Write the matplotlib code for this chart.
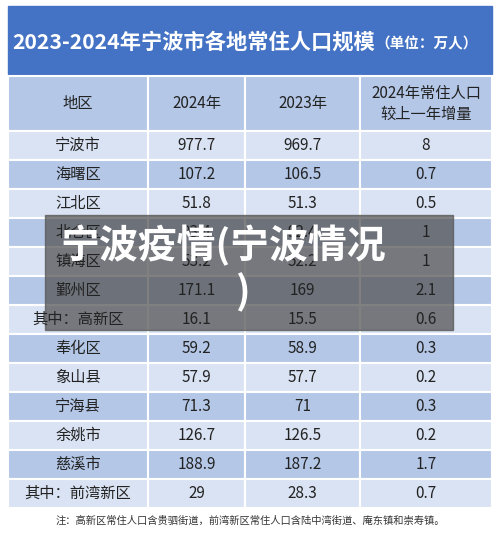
import matplotlib.pyplot as plt
from matplotlib.patches import Rectangle

plt.rcParams['font.family'] = ['Noto Sans CJK SC', 'DejaVu Sans']

title = '2023-2024年宁波市各地常住人口规模'
unit = '（单位：万人）'
headers = ['地区', '2024年', '2023年', '2024年常住人口\n较上一年增量']
regions = ['宁波市', '海曙区', '江北区', '北仑区', '镇海区', '鄞州区', '其中：高新区',
           '奉化区', '象山县', '宁海县', '余姚市', '慈溪市', '其中：前湾新区']
pop_2024 = ['977.7', '107.2', '51.8', '93.4', '53.2', '171.1', '16.1',
            '59.2', '57.9', '71.3', '126.7', '188.9', '29']
pop_2023 = ['969.7', '106.5', '51.3', '92.4', '52.2', '169', '15.5',
            '58.9', '57.7', '71', '126.5', '187.2', '28.3']
increase = ['8', '0.7', '0.5', '1', '1', '2.1', '0.6',
            '0.3', '0.2', '0.3', '0.2', '1.7', '0.7']
note = '注：高新区常住人口含贵驷街道，前湾新区常住人口含陆中湾街道、庵东镇和崇寿镇。'
overlay_1 = '宁波疫情(宁波情况'
overlay_2 = ')'

fig = plt.figure(figsize=(5, 5.45), dpi=100)
ax = fig.add_axes([0, 0, 1, 1])
ax.set_xlim(0, 500)
ax.set_ylim(545, 0)
ax.axis('off')

cols = [8, 148, 245, 360, 492]
border = '#ffffff'

# title band
ax.add_patch(Rectangle((8, 6), 484, 68, color='#4472c4'))
ax.text(12, 42, title, color='white', fontsize=15.3, fontweight='bold', va='center')
ax.text(375, 43, unit, color='white', fontsize=10.5, fontweight='bold', va='center')

# header
hy0, hy1 = 76, 131
for i in range(4):
    ax.add_patch(Rectangle((cols[i], hy0), cols[i+1] - cols[i], hy1 - hy0,
                           facecolor='#b4c7e7', edgecolor=border, lw=1.5))
    ax.text((cols[i] + cols[i+1]) / 2, (hy0 + hy1) / 2, headers[i], ha='center',
            va='center', fontsize=11, color='#222222', linespacing=1.3)

# rows
rh = 29
for r in range(len(regions)):
    y = hy1 + r * rh
    fc = '#dae3f3' if r % 2 == 0 else '#b4c7e7'
    vals = [regions[r], pop_2024[r], pop_2023[r], increase[r]]
    for i in range(4):
        ax.add_patch(Rectangle((cols[i], y), cols[i+1] - cols[i], rh,
                               facecolor=fc, edgecolor=border, lw=1.5))
        ax.text((cols[i] + cols[i+1]) / 2, y + rh / 2, vals[i], ha='center',
                va='center', fontsize=11, color='#222222')

ax.text(250, 521, note, ha='center', va='center', fontsize=7.4, color='#333333')

# overlay box
ax.add_patch(Rectangle((45, 215), 408, 115, color='#555555', alpha=0.75))
ax.text(60, 246, overlay_1, color='white', fontsize=28, fontweight='bold', va='center')
ax.text(243, 292, overlay_2, color='white', fontsize=28, fontweight='bold',
        va='center', ha='center')

fig.savefig('out.png', dpi=100)
